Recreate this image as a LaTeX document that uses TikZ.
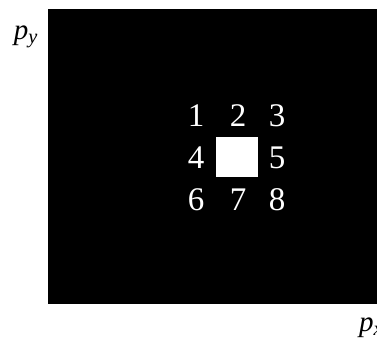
\documentclass[tikz,border=0pt]{standalone}
\usepackage{fontspec}
\setmainfont{Liberation Serif}
\usetikzlibrary{positioning}

\begin{document}
\begin{tikzpicture}[x=1pt,y=-1pt]
\tikzset{digit/.style={inner sep=0pt,white,font=\fontsize{33}{33}\selectfont},
  axislabel/.style={inner sep=0pt,font=\fontsize{29}{29}\selectfont\itshape}}
\useasboundingbox (0,0) rectangle (377,338);
\fill[black] (48,9) rectangle (377,304);
\node[fill=white,minimum width=42pt,minimum height=40pt,inner sep=0pt] (centre) at (237,157) {};
\node[digit] (n1) at (196,116) {1};
\node[digit] (n2) at (238,116) {2};
\node[digit] (n3) at (277,116) {3};
\node[digit] (n4) at (196,158) {4};
\node[digit] (n5) at (277,158) {5};
\node[digit] (n6) at (196,200) {6};
\node[digit] (n7) at (238,200) {7};
\node[digit] (n8) at (277,200) {8};
\node[axislabel] (py) at (26,37) {p\textsubscript{y}};
\node[axislabel,anchor=west] (px) at (359,328) {p\textsubscript{x}};
\end{tikzpicture}
\end{document}
